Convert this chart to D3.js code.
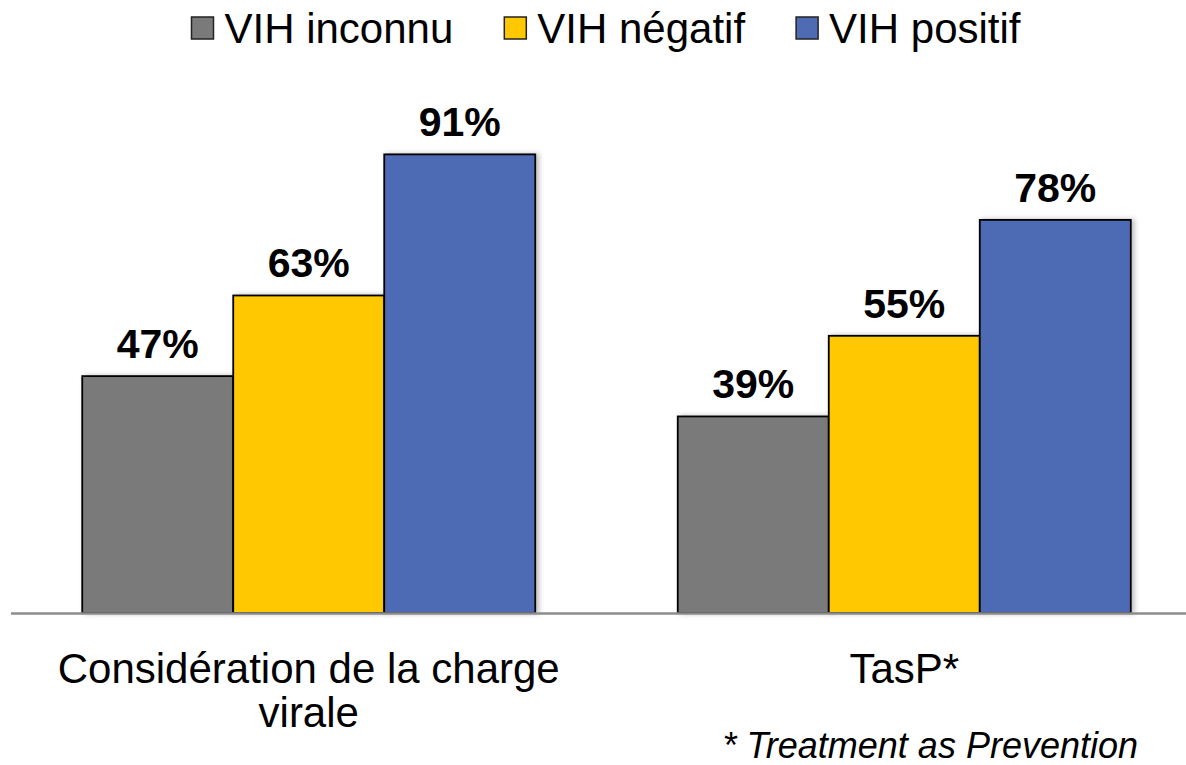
<!DOCTYPE html>
<html>
<head>
<meta charset="utf-8">
<script src="https://cdn.jsdelivr.net/npm/d3@7"></script>
<style>
  body { margin: 0; background: #fff; }
  svg { display: block; font-family: Arial, "Liberation Sans", sans-serif; }
</style>
</head>
<body>
<div id="chart"></div>
<script>
// data
var categories = ["Considération de la charge virale", "TasP*"];
var series = ["VIH inconnu", "VIH négatif", "VIH positif"];
var inconnu = [47, 39];
var negatif = [63, 55];
var positif = [91, 78];
var colors = ["#7a7a7a", "#ffc800", "#4e6bb4"];
var footnote = "* Treatment as Prevention";

var width = 1186;
var height = 765;
var baseY = 613;

var svg = d3.select("#chart")
  .append("svg")
  .attr("width", width)
  .attr("height", height);

// soft shadow on the bars
var defs = svg.append("defs");
var f = defs.append("filter").attr("id", "shadow")
  .attr("x", "-10%").attr("y", "-10%").attr("width", "130%").attr("height", "120%");
f.append("feDropShadow")
  .attr("dx", 3).attr("dy", 0).attr("stdDeviation", 2.5)
  .attr("flood-color", "#000").attr("flood-opacity", 0.25);

var rows = categories.map(function(c, i) {
  return { cat: c, values: [inconnu[i], negatif[i], positif[i]] };
});

var x0 = d3.scaleBand()
  .domain(categories)
  .range([11, 1202])
  .paddingInner(0.2393)
  .paddingOuter(0.1196);

var x1 = d3.scaleBand()
  .domain(series)
  .range([0, x0.bandwidth()]);

var y = d3.scaleLinear()
  .domain([0, 100])
  .range([baseY, 109]);

// bars
var groups = svg.selectAll("g.group")
  .data(rows)
  .enter()
  .append("g")
  .attr("class", "group")
  .attr("transform", function(d) { return "translate(" + x0(d.cat) + ",0)"; });

groups.selectAll("rect")
  .data(function(d) {
    return d.values.map(function(v, j) { return { s: series[j], v: v, j: j }; });
  })
  .enter()
  .append("rect")
  .attr("x", function(d) { return x1(d.s); })
  .attr("y", function(d) { return y(d.v); })
  .attr("width", x1.bandwidth())
  .attr("height", function(d) { return baseY - y(d.v); })
  .attr("fill", function(d) { return colors[d.j]; })
  .attr("stroke", "#000")
  .attr("stroke-width", 1.8)
  .attr("filter", "url(#shadow)");

// value labels
groups.selectAll("text.val")
  .data(function(d) {
    return d.values.map(function(v, j) { return { s: series[j], v: v }; });
  })
  .enter()
  .append("text")
  .attr("class", "val")
  .attr("x", function(d) { return x1(d.s) + x1.bandwidth() / 2; })
  .attr("y", function(d) { return y(d.v) - 18; })
  .attr("text-anchor", "middle")
  .attr("font-size", 41)
  .attr("font-weight", "bold")
  .attr("fill", "#000")
  .text(function(d) { return d.v + "%"; });

// x axis: only the baseline line and the category labels
var xAxis = d3.axisBottom(x0).tickSize(0).tickFormat("");
var axG = svg.append("g")
  .attr("transform", "translate(0," + baseY + ")")
  .call(xAxis);
axG.select(".domain")
  .attr("d", "M11,0.5H" + width)
  .attr("stroke", "#8c8c8c")
  .attr("stroke-width", 2.5);

// category labels, wrapped
categories.forEach(function(c) {
  var t = svg.append("text")
    .attr("text-anchor", "middle")
    .attr("font-size", 42)
    .attr("fill", "#000");
  var cx = x0(c) + x0.bandwidth() / 2;
  var words = c.split(" ");
  var line = [];
  var lineNo = 0;
  var tspan = t.append("tspan").attr("x", cx).attr("y", 683);
  words.forEach(function(w) {
    line.push(w);
    tspan.text(line.join(" "));
    if (tspan.node().getComputedTextLength() > 560 && line.length > 1) {
      line.pop();
      tspan.text(line.join(" "));
      line = [w];
      lineNo++;
      tspan = t.append("tspan").attr("x", cx).attr("y", 683 + lineNo * 44).text(w);
    }
  });
});

// footnote
svg.append("text")
  .attr("x", 1138)
  .attr("y", 758)
  .attr("text-anchor", "end")
  .attr("font-size", 36)
  .attr("font-style", "italic")
  .attr("fill", "#000")
  .text(footnote);

// legend
var legend = svg.append("g").attr("class", "legend");
var lx = 0;
series.forEach(function(s, i) {
  var item = legend.append("g").attr("transform", "translate(" + lx + ",0)");
  item.append("rect")
    .attr("x", 0).attr("y", 17)
    .attr("width", 22).attr("height", 22)
    .attr("fill", colors[i])
    .attr("stroke", "#222")
    .attr("stroke-width", 1.5);
  var t = item.append("text")
    .attr("x", 33).attr("y", 43)
    .attr("font-size", 42)
    .attr("fill", "#000")
    .text(s);
  lx += 33 + t.node().getComputedTextLength() + 51;
});
var legW = lx - 51;
legend.attr("transform", "translate(" + (606 - legW / 2) + ",0)");
</script>
</body>
</html>
